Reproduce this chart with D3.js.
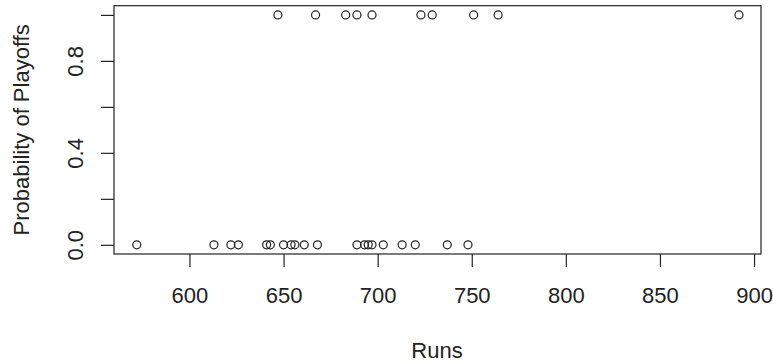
<!DOCTYPE html>
<html>
<head>
<meta charset="utf-8">
<script src="https://cdn.jsdelivr.net/npm/d3@7"></script>
<style>
  body { margin: 0; background: #fff; }
  text { font-family: "Liberation Sans", Arial, sans-serif; }
</style>
</head>
<body>
<div id="chart"></div>
<script>
// Runs de cada equipo y si llegó a playoffs (1) o no (0)
const runsPlayoffs = [647, 667, 683, 689, 697, 723, 729, 751, 764, 892];
const runsNoPlayoffs = [572, 613, 622, 626, 641, 643, 650, 654, 656, 661,
                        668, 689, 693, 695, 697, 703, 713, 720, 737, 748];
const xTicks = [600, 650, 700, 750, 800, 850, 900];
const yTicks = [0, 0.2, 0.4, 0.6, 0.8, 1.0];
const yLabelTicks = [0, 0.4, 0.8];

const width = 773, height = 364;
const ink = "#222";

const points = runsPlayoffs.map(r => ({ runs: r, p: 1 }))
    .concat(runsNoPlayoffs.map(r => ({ runs: r, p: 0 })));

const svg = d3.select("#chart").append("svg")
    .attr("width", width)
    .attr("height", height);

// escalas (R: rango de datos + 4%)
const x = d3.scaleLinear().domain([559.9, 903.7]).range([114, 761]);
const y = d3.scaleLinear().domain([-0.04, 1.04]).range([254, 5.7]);

// eje X
const gx = svg.append("g")
    .attr("transform", `translate(0,${y.range()[0]})`)
    .call(d3.axisBottom(x).tickValues(xTicks).tickSize(13).tickFormat(d3.format("d")));
gx.select(".domain").remove();
gx.selectAll("line").attr("stroke", ink).attr("stroke-width", 1.2);
gx.selectAll("text")
    .attr("y", 49).attr("dy", 0)
    .attr("fill", ink)
    .style("font-size", "22px");

// eje Y (etiquetas giradas como en R)
const gy = svg.append("g")
    .attr("transform", `translate(${x.range()[0]},0)`)
    .call(d3.axisLeft(y).tickValues(yTicks).tickSize(13)
        .tickFormat(d => yLabelTicks.includes(d) ? d3.format(".1f")(d) : ""));
gy.select(".domain").remove();
gy.selectAll("line").attr("stroke", ink).attr("stroke-width", 1.2);
gy.selectAll("text")
    .attr("x", 0).attr("dy", 0)
    .attr("text-anchor", "middle")
    .attr("transform", "translate(-31.5,0) rotate(-90)")
    .attr("fill", ink)
    .style("font-size", "22px");

// caja
svg.append("rect")
    .attr("x", x.range()[0])
    .attr("y", y.range()[1])
    .attr("width", x.range()[1] - x.range()[0])
    .attr("height", y.range()[0] - y.range()[1])
    .attr("fill", "none")
    .attr("stroke", ink)
    .attr("stroke-width", 1.2);

// puntos
svg.selectAll(".pt")
    .data(points).enter().append("circle")
    .attr("class", "pt")
    .attr("cx", d => x(d.runs))
    .attr("cy", d => y(d.p))
    .attr("r", 4)
    .attr("fill", "none")
    .attr("stroke", ink)
    .attr("stroke-width", 1.2);

// títulos de ejes
svg.append("text")
    .attr("x", 437)
    .attr("y", 358)
    .attr("text-anchor", "middle")
    .attr("fill", ink)
    .style("font-size", "22px")
    .text("Runs");

svg.append("text")
    .attr("transform", `translate(28.5,${(y.range()[0] + y.range()[1]) / 2}) rotate(-90)`)
    .attr("text-anchor", "middle")
    .attr("fill", ink)
    .style("font-size", "22px")
    .text("Probability of Playoffs");
</script>
</body>
</html>
